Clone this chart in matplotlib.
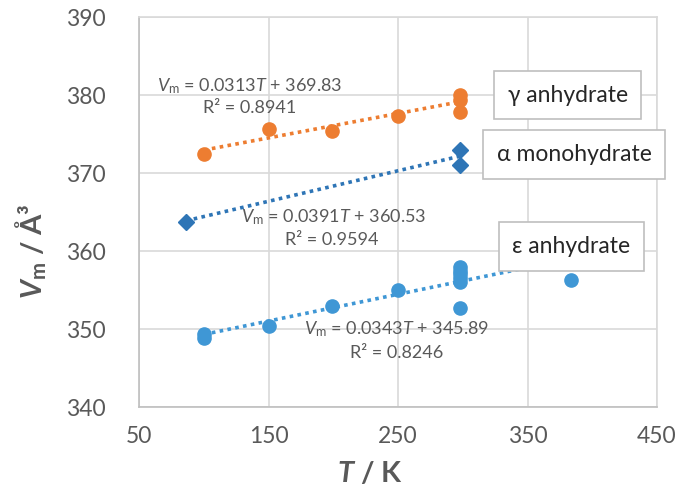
import matplotlib
matplotlib.use("Agg")
import matplotlib.pyplot as plt
import numpy as np

plt.rcParams['font.family'] = ['Lato', 'DejaVu Sans']
plt.rcParams['mathtext.fontset'] = 'custom'
plt.rcParams['mathtext.rm'] = 'Lato'
plt.rcParams['mathtext.it'] = 'Lato:italic'
plt.rcParams['mathtext.bf'] = 'Lato:bold'
plt.rcParams['mathtext.bfit'] = 'Lato:bold:italic'

# gamma anhydrate
gamma_T = [100, 150, 199, 250, 298, 298, 298]
gamma_V = [372.4, 375.6, 375.4, 377.3, 380.0, 379.4, 377.8]
# alpha monohydrate
alpha_T = [86, 298, 298]
alpha_V = [363.7, 373.0, 371.0]
# epsilon anhydrate
eps_T = [100, 100, 150, 199, 250, 298, 298, 298, 298, 298, 298, 384]
eps_V = [349.4, 348.9, 350.4, 352.9, 355.0, 358.0, 357.5, 357.0, 356.5, 356.0, 352.7, 356.3]

# trend line coefficients (slope, intercept)
gamma_fit = (0.0313, 369.83)
alpha_fit = (0.0391, 360.53)
eps_fit = (0.0343, 345.89)

gamma_eq = ["$V_\\mathrm{m}$ = 0.0313$T$ + 369.83", "R² = 0.8941"]
alpha_eq = ["$V_\\mathrm{m}$ = 0.0391$T$ + 360.53", "R² = 0.9594"]
eps_eq = ["$V_\\mathrm{m}$ = 0.0343$T$ + 345.89", "R² = 0.8246"]

x_ticks = [50, 150, 250, 350, 450]
y_ticks = [340, 350, 360, 370, 380, 390]

c_gamma = '#ED7D31'
c_alpha = '#2E75B6'
c_eps = '#3F97D5'
gray = '#595959'

fig = plt.figure(figsize=(6.8, 4.91), dpi=100)
ax = fig.add_axes([0.205, 0.171, 0.761, 0.794])

def trend(T, fit, color):
    xs = np.array([min(T), max(T)])
    ax.plot(xs, fit[0] * xs + fit[1], linestyle=(0, (1, 1.2)), color=color, lw=2.6, zorder=2)

trend(gamma_T, gamma_fit, c_gamma)
trend(alpha_T, alpha_fit, c_alpha)
trend(eps_T, eps_fit, c_eps)

ax.plot(gamma_T, gamma_V, 'o', color=c_gamma, ms=9.5, zorder=3)
ax.plot(alpha_T, alpha_V, 'D', color=c_alpha, ms=8, zorder=3)
ax.plot(eps_T, eps_V, 'o', color=c_eps, ms=9.5, zorder=3)

ax.set_xlim(50, 450)
ax.set_ylim(340, 390)
ax.set_xticks(x_ticks)
ax.set_yticks(y_ticks)
ax.grid(True, color='#D9D9D9', lw=1.2, zorder=0)
ax.set_axisbelow(True)
for s in ax.spines.values():
    s.set_color('#D9D9D9')
    s.set_linewidth(1.2)
ax.spines['left'].set_color('#BFBFBF')
ax.spines['bottom'].set_color('#BFBFBF')
ax.tick_params(length=0, labelsize=16.5, colors=gray)
ax.tick_params(axis='y', pad=24)
ax.tick_params(axis='x', pad=14)

ax.set_xlabel("$\\mathbfit{T}$ / K", fontsize=21, fontweight='bold', color=gray)
ax.set_ylabel("$\\mathbfit{V}_\\mathbf{m}$ / Å³", fontsize=21, fontweight='bold', color=gray)
ax.xaxis.set_label_coords(0.445, -0.135)
ax.yaxis.set_label_coords(-0.175, 0.40)

eq_kw = dict(fontsize=13, color=gray, ha='center', va='center')
# equations placed in data coords
ax.text(135, 381.1, gamma_eq[0], **eq_kw)
ax.text(135, 378.3, gamma_eq[1], **eq_kw)
ax.text(200, 364.4, alpha_eq[0], **eq_kw)
ax.text(199, 361.4, alpha_eq[1], **eq_kw)
ax.text(249, 350.0, eps_eq[0], **eq_kw)
ax.text(249, 346.9, eps_eq[1], **eq_kw)

box_kw = dict(fontsize=16.5, color='#262626', ha='center', va='center',
              bbox=dict(boxstyle='square,pad=0.6', fc='white', ec='#BFBFBF', lw=1.2), zorder=5)
ax.text(381, 380.0, "γ anhydrate", **box_kw)
ax.text(386, 372.4, "α monohydrate", **box_kw)
ax.text(384, 360.6, "ε anhydrate", **box_kw)

fig.savefig("out.png", dpi=100)
